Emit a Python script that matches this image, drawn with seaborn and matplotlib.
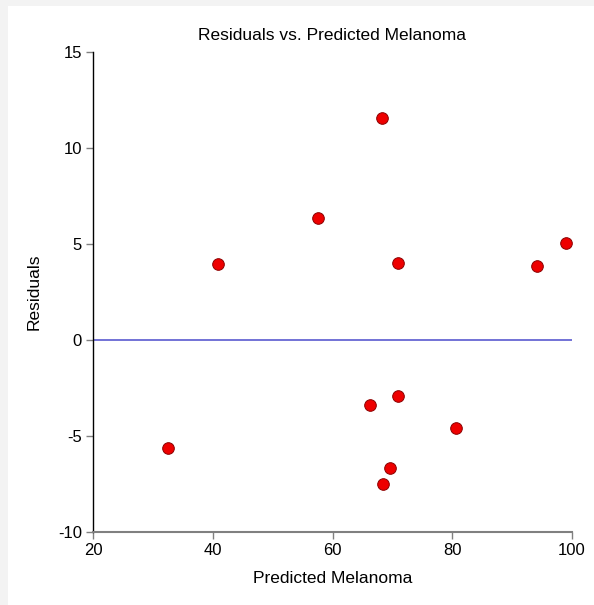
import matplotlib
matplotlib.use("Agg")
import matplotlib.pyplot as plt
import seaborn as sns
import pandas as pd
from matplotlib.patches import Rectangle

predicted = [57.6, 68.3, 40.9, 70.9, 94.2, 99.0, 66.3, 70.9, 80.6, 32.5, 69.6, 68.4]
residuals = [6.35, 11.56, 3.96, 4.01, 3.85, 5.05, -3.39, -2.92, -4.58, -5.63, -6.67, -7.50]
x_ticks = [20, 40, 60, 80, 100]
y_ticks = [-10, -5, 0, 5, 10, 15]

df = pd.DataFrame({"Predicted Melanoma": predicted, "Residuals": residuals})

sns.set_theme(style="white")
plt.rcParams['font.family'] = ['Liberation Sans', 'DejaVu Sans']

fig = plt.figure(figsize=(5.94, 6.05), dpi=100)
fig.patch.set_facecolor("white")
# light grey frame strips at top and left
fig.patches.append(Rectangle((0, 1 - 6/605), 1, 6/605, transform=fig.transFigure,
                             facecolor="#f3f3f3", edgecolor="none", zorder=0))
fig.patches.append(Rectangle((0, 0), 8/594, 1, transform=fig.transFigure,
                             facecolor="#f3f3f3", edgecolor="none", zorder=0))

ax = fig.add_axes([93/594, 73/605, 479/594, 480/605])
ax.axhline(0, color="#5a5ad0", lw=1.2, zorder=1)
sns.scatterplot(data=df, x="Predicted Melanoma", y="Residuals", ax=ax,
                color="#ee0000", edgecolor="#8b0000", linewidth=0.7, s=70, zorder=3)

ax.set_xlim(20, 100)
ax.set_ylim(-10, 15)
ax.set_xticks(x_ticks)
ax.set_yticks(y_ticks)
ax.set_xticklabels([str(t) for t in x_ticks], fontsize=12)
ax.set_yticklabels([str(t) for t in y_ticks], fontsize=12)
ax.tick_params(axis="both", direction="out", length=5, width=1, color="#808080",
               bottom=True, left=True, pad=3, labelcolor="black")
for s in ["top", "right"]:
    ax.spines[s].set_visible(False)
ax.spines["left"].set_color("black")
ax.spines["left"].set_linewidth(1)
ax.spines["bottom"].set_color("#808080")
ax.spines["bottom"].set_linewidth(1.5)

ax.set_xlabel("Predicted Melanoma", fontsize=12.5, labelpad=9, color="black")
ax.set_ylabel("Residuals", fontsize=12.5, labelpad=12, color="black")
ax.set_title("Residuals vs. Predicted Melanoma", fontsize=12.5, pad=9, color="black")

fig.savefig("out.png", dpi=100)
